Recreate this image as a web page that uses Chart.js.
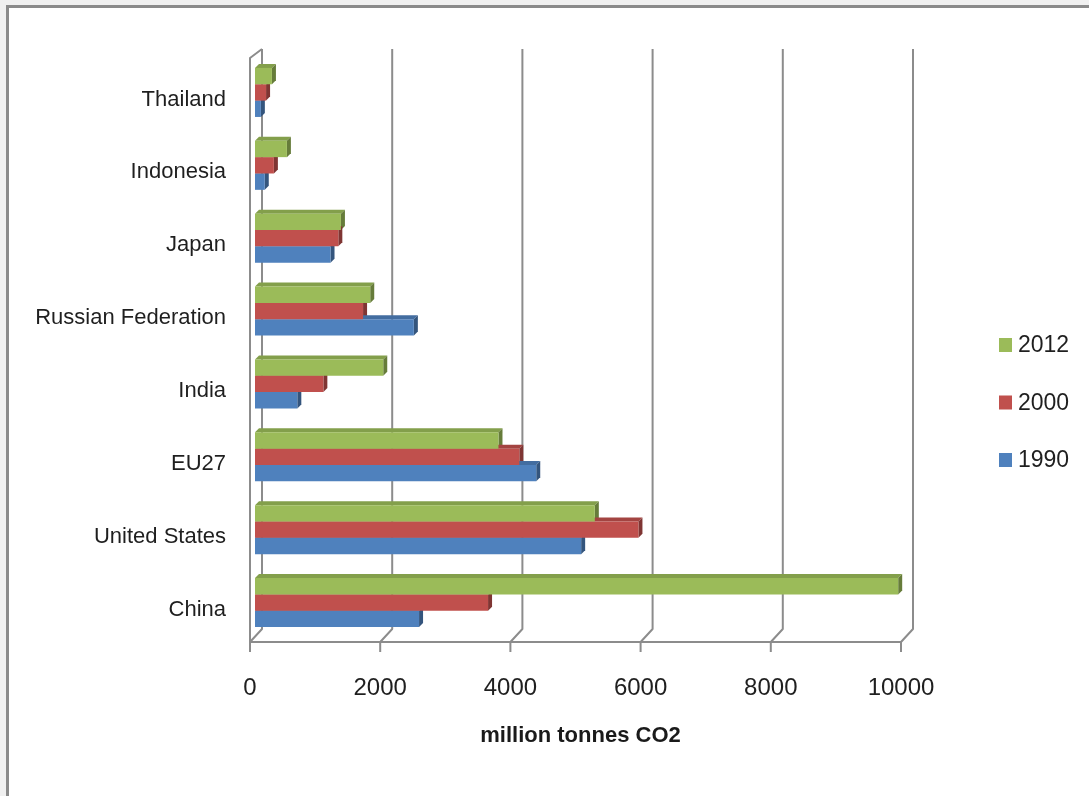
<!DOCTYPE html>
<html>
<head>
<meta charset="utf-8">
<title>CO2 emissions by country</title>
<script src="https://cdn.jsdelivr.net/npm/chart.js@4/dist/chart.umd.min.js"></script>
<style>
  html, body { margin: 0; padding: 0; background: #f0f0f0; overflow: hidden; }
  #sheet {
    position: absolute; left: 6px; top: 5px; width: 1200px; height: 900px;
    background: #ffffff; border-left: 3px solid #8a8a8a; border-top: 3px solid #8a8a8a;
  }
  #wrap { position: absolute; left: 0; top: 0; width: 1089px; height: 796px; }
</style>
</head>
<body>
<div id="sheet"></div>
<div id="wrap"><canvas id="chart" width="1089" height="796"></canvas></div>
<script>
// Countries, listed top to bottom as drawn
const countries = ['Thailand', 'Indonesia', 'Japan', 'Russian Federation', 'India', 'EU27', 'United States', 'China'];

// Emissions in million tonnes CO2
const emissions2012 = [260, 490, 1320, 1770, 1970, 3740, 5220, 9880];
const emissions2000 = [170, 290, 1280, 1660, 1050, 4060, 5890, 3580];
const emissions1990 = [90, 150, 1160, 2440, 650, 4320, 5010, 2520];

const seriesNames = ['2012', '2000', '1990'];
const xTickValues = [0, 2000, 4000, 6000, 8000, 10000];

// Face colours: front, top, side
const palette = [
  { front: '#9bbb59', top: '#839f4b', side: '#667c3a' },
  { front: '#c0504d', top: '#a34441', side: '#7f3533' },
  { front: '#4f81bd', top: '#436da0', side: '#34557d' }
];

const FONT = "'Liberation Sans', Arial, sans-serif";
const DEPTH = 4;

// Back wall, floor edge and bar depth faces
const frame3d = {
  id: 'frame3d',
  beforeDatasetsDraw(chart) {
    const { ctx, chartArea: a, scales: { x } } = chart;
    const backTop = a.top - 7, backBottom = a.bottom - 10, frontY = a.bottom + 3;
    ctx.save();
    ctx.strokeStyle = '#8c8c8c';
    ctx.lineWidth = 2;
    ctx.lineJoin = 'round';
    xTickValues.forEach(v => {
      const px = x.getPixelForValue(v);
      ctx.beginPath();
      ctx.moveTo(px + 7, backTop);
      ctx.lineTo(px + 7, backBottom);
      ctx.lineTo(px - 5, frontY);
      ctx.lineTo(px - 5, frontY + 10);
      ctx.stroke();
    });
    const x0 = x.getPixelForValue(0);
    const xEnd = x.getPixelForValue(10000);
    ctx.beginPath();
    ctx.moveTo(x0 - 5, frontY);
    ctx.lineTo(xEnd - 5, frontY);
    ctx.stroke();
    // left wall front edge
    ctx.beginPath();
    ctx.moveTo(x0 - 5, frontY);
    ctx.lineTo(x0 - 5, a.top + 2);
    ctx.lineTo(x0 + 7, backTop);
    ctx.stroke();

    chart.data.datasets.forEach((ds, i) => {
      const meta = chart.getDatasetMeta(i);
      const col = palette[i];
      meta.data.forEach(bar => {
        const p = bar.getProps(['x', 'y', 'base', 'height'], true);
        const top = p.y - p.height / 2, bottom = p.y + p.height / 2;
        ctx.fillStyle = col.top;
        ctx.beginPath();
        ctx.moveTo(p.base, top);
        ctx.lineTo(p.x, top);
        ctx.lineTo(p.x + DEPTH, top - DEPTH);
        ctx.lineTo(p.base + DEPTH, top - DEPTH);
        ctx.closePath();
        ctx.fill();
        ctx.fillStyle = col.side;
        ctx.beginPath();
        ctx.moveTo(p.x, top);
        ctx.lineTo(p.x + DEPTH, top - DEPTH);
        ctx.lineTo(p.x + DEPTH, bottom - DEPTH);
        ctx.lineTo(p.x, bottom);
        ctx.closePath();
        ctx.fill();
      });
    });
    ctx.restore();
  }
};

// Legend column on the right
const sideLegend = {
  id: 'sideLegend',
  afterDraw(chart) {
    const { ctx } = chart;
    ctx.save();
    ctx.font = '23px ' + FONT;
    ctx.textBaseline = 'middle';
    chart.data.datasets.forEach((ds, i) => {
      const cy = 345 + i * 57.5;
      ctx.fillStyle = palette[i].front;
      ctx.fillRect(999, cy - 7, 13, 14);
      ctx.fillStyle = '#1f1f1f';
      ctx.fillText(ds.label, 1018, cy + 1);
    });
    ctx.restore();
  }
};

Chart.defaults.font.family = FONT;
Chart.defaults.color = '#1f1f1f';

new Chart(document.getElementById('chart'), {
  type: 'bar',
  data: {
    labels: countries,
    datasets: [
      { label: seriesNames[0], data: emissions2012, backgroundColor: palette[0].front },
      { label: seriesNames[1], data: emissions2000, backgroundColor: palette[1].front },
      { label: seriesNames[2], data: emissions1990, backgroundColor: palette[2].front }
    ]
  },
  options: {
    indexAxis: 'y',
    responsive: false,
    animation: false,
    devicePixelRatio: 1,
    categoryPercentage: 0.673,
    barPercentage: 1,
    layout: { padding: { top: 56, right: 183, left: 0, bottom: 0 } },
    plugins: { legend: { display: false }, tooltip: { enabled: false } },
    scales: {
      x: {
        min: 0, max: 10000,
        afterBuildTicks: s => { s.ticks = xTickValues.map(v => ({ value: v })); },
        afterFit: s => { s.height = 157; },
        grid: { display: false, drawTicks: false },
        border: { display: false },
        ticks: {
          font: { size: 24 }, padding: 35, labelOffset: -5, maxRotation: 0,
          callback: v => String(v)
        },
        title: {
          display: true, text: 'million tonnes CO2',
          font: { size: 22, weight: 'bold' }, color: '#1a1a1a',
          padding: { top: 0, bottom: 47 }
        }
      },
      y: {
        afterFit: s => { s.width = 255; },
        grid: { display: false, drawTicks: false },
        border: { display: false },
        ticks: { font: { size: 22 }, padding: 29, labelOffset: 7 }
      }
    }
  },
  plugins: [frame3d, sideLegend]
});
</script>
</body>
</html>
